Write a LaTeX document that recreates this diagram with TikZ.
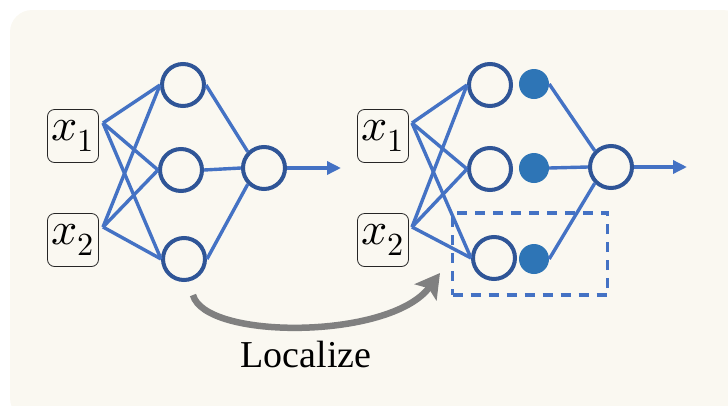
\documentclass[tikz,border=0pt]{standalone}
\usepackage{fontspec}
\setmainfont{Liberation Serif}
\usepackage{unicode-math}
\setmathfont{Latin Modern Math}
\usepackage{tikz}
\usetikzlibrary{arrows.meta,calc,positioning}
\definecolor{bgcream}{RGB}{250,248,241}
\definecolor{wireblue}{RGB}{68,114,196}
\definecolor{ringblue}{RGB}{47,85,151}
\definecolor{dotblue}{RGB}{46,117,182}
\definecolor{arrowgray}{RGB}{128,128,128}

\begin{document}
\begin{tikzpicture}[x=1pt,y=-1pt,
    inbox/.style={draw=black!85,rounded corners=7pt,line width=0.8pt,minimum width=51pt,minimum height=53pt,inner sep=0pt,font=\fontsize{46}{46}\selectfont},
    neuron/.style={circle,draw=ringblue,line width=4pt,minimum size=42pt,inner sep=0pt},
    gate/.style={circle,fill=dotblue,minimum size=30pt,inner sep=0pt},
    wire/.style={wireblue,line width=3.4pt},
    outarrow/.style={wire,-{Triangle[length=14pt,width=13pt]}}]
	\useasboundingbox (0,0) rectangle (728,405);
	\fill[bgcream,rounded corners=22pt] (10,10) rectangle (745,420);

	% plain network
	\node[inbox] (x1a) at (73,136) {$x_1$};
	\node[inbox] (x2a) at (73,240) {$x_2$};
	\coordinate (x1ao) at (103,123);
	\coordinate (x2ao) at (103,227);
	\node[neuron] (h1a) at (183,85) {};
	\node[neuron] (h2a) at (181,170) {};
	\node[neuron] (h3a) at (184,259) {};
	\node[neuron] (oa) at (264,168) {};
	\coordinate (ya) at (341,168);
	\foreach \i in {x1ao,x2ao}
		\foreach \h in {h1a,h2a,h3a}
			\draw[wire] (\i) -- (\h.west);
	\draw[wire] (h1a.east) -- (oa.135);
	\draw[wire] (h2a.east) -- (oa.west);
	\draw[wire] (h3a.east) -- (oa.225);
	\draw[outarrow] (oa.east) -- (ya);

	% localized network
	\node[inbox] (x1b) at (383,136) {$x_1$};
	\node[inbox] (x2b) at (383,240) {$x_2$};
	\coordinate (x1bo) at (412,123);
	\coordinate (x2bo) at (412,227);
	\node[neuron] (h1b) at (490,85) {};
	\node[neuron] (h2b) at (490,169) {};
	\node[neuron] (h3b) at (494,258) {};
	\node[gate] (g1b) at (534,84) {};
	\node[gate] (g2b) at (534,168) {};
	\node[gate] (g3b) at (534,259) {};
	\node[neuron] (ob) at (611,167) {};
	\coordinate (yb) at (687,167);
	\foreach \i in {x1bo,x2bo}
		\foreach \h in {h1b,h2b,h3b}
			\draw[wire] (\i) -- (\h.west);
	\draw[wire] (g1b.east) -- (ob.135);
	\draw[wire] (g2b.east) -- (ob.west);
	\draw[wire] (g3b.east) -- (ob.225);
	\draw[outarrow] (ob.east) -- (yb);
	\node[draw=wireblue,line width=3.5pt,dash pattern=on 10pt off 8pt,minimum width=155pt,minimum height=82pt] (sel) at (530,254) {};

	% localize step
	\coordinate (ls) at (193,295);
	\coordinate (le) at (440,273);
	\draw[arrowgray,line width=6.5pt,-{Stealth[length=24pt,width=27pt,inset=5pt]}] (ls) .. controls (205,340) and (390,340) .. (le);
	\node[font=\fontsize{38}{38}\selectfont,anchor=base] (loclab) at (306,367) {Localize};
\end{tikzpicture}
\end{document}
